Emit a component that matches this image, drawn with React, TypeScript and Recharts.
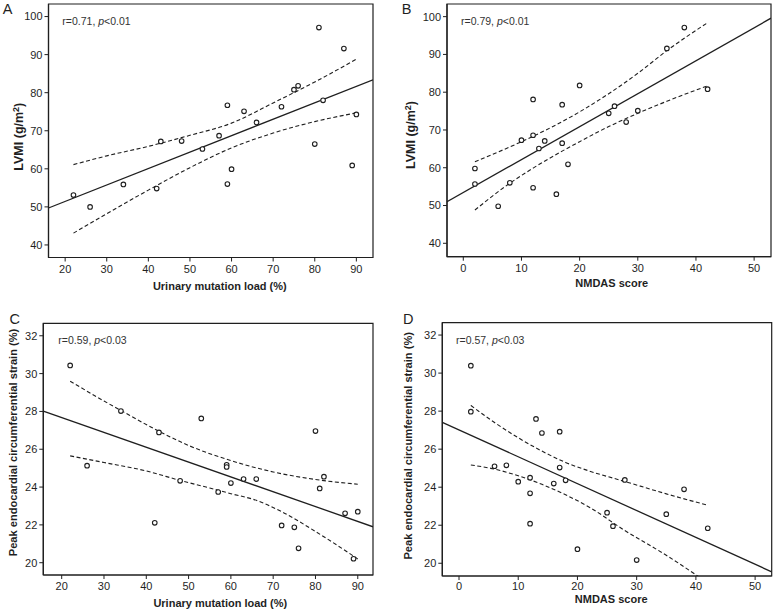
import React from "react";
import { ComposedChart, Scatter, Line, XAxis, YAxis, ReferenceArea } from "recharts";

const INK = "#1f1f1f";
const FONT = "'Liberation Sans', Arial, sans-serif";

// patients
const urinaryLoad = [22, 26, 34, 42, 43, 48, 53, 57, 59, 59, 60, 63, 66, 72, 75, 76, 80, 81, 82, 87, 89, 90];
const lvmiByLoad = [53.1, 50.0, 55.9, 54.8, 67.2, 67.3, 65.2, 68.7, 76.7, 56.0, 59.9, 75.1, 72.2, 76.3, 80.8, 81.8, 66.5, 97.1, 78.0, 91.6, 60.9, 74.3];
const strainByLoad = [30.43, 25.13, 28.02, 22.11, 26.89, 24.33, 27.63, 23.74, 25.18, 25.06, 24.21, 24.42, 24.42, 21.97, 21.87, 20.76, 26.96, 23.93, 24.55, 22.61, 20.21, 22.7];

const nmdasScore = [2, 2, 6, 8, 10, 12, 12, 12, 13, 14, 16, 17, 17, 18, 20, 25, 26, 28, 30, 35, 38, 42];
const lvmiByNmdas = [59.8, 55.7, 49.8, 56.0, 67.3, 78.1, 68.6, 54.7, 65.1, 67.1, 53.0, 76.7, 66.5, 60.9, 81.8, 74.4, 76.3, 72.1, 75.1, 91.6, 97.1, 80.8];
const strainByNmdas = [30.39, 27.97, 25.1, 25.15, 24.29, 24.5, 23.68, 22.08, 27.59, 26.85, 24.19, 26.92, 25.03, 24.36, 20.74, 22.66, 21.95, 24.38, 20.17, 22.58, 23.89, 21.84];

// fitted lines and 95% bands
const fitAX = [16, 94];
const fitAY = [49.7, 83.4];
const bandAUpX = [22, 30, 40, 50, 60, 70, 80, 90];
const bandAUpY = [61.1, 63.4, 65.9, 68.8, 72.0, 77.3, 82.8, 88.8];
const bandALoX = [22, 30, 40, 50, 60, 70, 80, 90];
const bandALoY = [43.1, 48.2, 54.4, 60.3, 65.5, 69.4, 72.4, 74.7];

const fitBX = [-2.8, 52.9];
const fitBY = [51.0, 99.6];
const bandBUpX = [2, 10, 15, 20, 25, 30, 35, 42];
const bandBUpY = [61.6, 66.9, 70.6, 74.8, 79.6, 85.0, 91.0, 98.4];
const bandBLoX = [2, 8, 12, 17, 20, 25, 30, 35, 42];
const bandBLoY = [48.8, 55.9, 59.9, 64.4, 66.9, 70.9, 74.4, 77.6, 81.7];

const fitCX = [15.65, 93.6];
const fitCY = [28.02, 21.9];
const bandCUpX = [22, 30, 34, 43, 50, 60, 70, 80, 90];
const bandCUpY = [29.6, 28.55, 28.05, 26.95, 26.2, 25.4, 24.8, 24.4, 24.15];
const bandCLoX = [22, 30, 40, 48, 55, 60, 66, 72, 80, 90];
const bandCLoY = [25.65, 25.3, 24.85, 24.35, 23.95, 23.65, 23.3, 22.7, 21.65, 20.2];

const fitDX = [-2.82, 52.8];
const fitDY = [27.41, 19.55];
const bandDUpX = [2, 6, 10, 14, 18, 22, 28, 35, 42];
const bandDUpY = [28.3, 27.4, 26.6, 25.9, 25.3, 24.85, 24.3, 23.65, 23.05];
const bandDLoX = [2, 6, 10, 14, 18, 22, 28, 35, 42];
const bandDLoY = [25.17, 24.95, 24.6, 24.15, 23.6, 22.95, 21.72, 20.42, 18.97];

const loadTicks = [20, 30, 40, 50, 60, 70, 80, 90];
const nmdasTicks = [0, 10, 20, 30, 40, 50];
const lvmiTicks = [40, 50, 60, 70, 80, 90, 100];
const strainTicks = [20, 22, 24, 26, 28, 30, 32];

const zip = (xs: number[], ys: number[]) => xs.map((x, i) => ({ x, y: ys[i] }));

const Ring = (props: any) => (
  <circle cx={props.cx} cy={props.cy} r={2.3} fill="#fff" stroke={INK} strokeWidth={1.1} />
);

type PanelSpec = {
  left: number;
  top: number;
  width: number;
  height: number;
  margin: { top: number; right: number; bottom: number; left: number };
  yAxisWidth: number;
  xAxisHeight: number;
  xTickMargin: number;
  xDomain: [number, number];
  yDomain: [number, number];
  xTicks: number[];
  yTicks: number[];
  xs: number[];
  ys: number[];
  fit: { x: number; y: number }[];
  upper: { x: number; y: number }[];
  lower: { x: number; y: number }[];
  xLabel: string;
  xLabelPos: [number, number];
  yLabel: React.ReactNode;
  yLabelPos: [number, number];
  yLabelSize: number;
};

function Panel(p: PanelSpec) {
  const pts = zip(p.xs, p.ys);
  const xLabel = () => (
    <text x={p.xLabelPos[0]} y={p.xLabelPos[1]} textAnchor="middle" fontFamily={FONT} fontWeight="bold" fontSize={11} fill={INK}>
      {p.xLabel}
    </text>
  );
  const yLabel = () => (
    <text
      transform={`translate(${p.yLabelPos[0]},${p.yLabelPos[1]}) rotate(-90)`}
      textAnchor="middle"
      fontFamily={FONT}
      fontWeight="bold"
      fontSize={p.yLabelSize}
      fill={INK}
    >
      {p.yLabel}
    </text>
  );
  return (
    <div style={{ position: "absolute", left: p.left, top: p.top }}>
      <ComposedChart width={p.width} height={p.height} margin={p.margin}>
        <XAxis
          type="number"
          dataKey="x"
          domain={p.xDomain}
          ticks={p.xTicks}
          interval={0}
          allowDataOverflow
          height={p.xAxisHeight}
          tickSize={4}
          tickMargin={p.xTickMargin}
          axisLine={{ stroke: INK, strokeWidth: 1.2 }}
          tickLine={{ stroke: INK, strokeWidth: 1 }}
          tick={{ fill: INK, fontSize: 11, fontFamily: FONT }}
          label={xLabel}
        />
        <YAxis
          type="number"
          dataKey="y"
          domain={p.yDomain}
          ticks={p.yTicks}
          interval={0}
          allowDataOverflow
          width={p.yAxisWidth}
          tickSize={4}
          tickMargin={2}
          axisLine={{ stroke: INK, strokeWidth: 1.2 }}
          tickLine={{ stroke: INK, strokeWidth: 1 }}
          tick={{ fill: INK, fontSize: 11, fontFamily: FONT }}
          label={yLabel}
        />
        <ReferenceArea
          x1={p.xDomain[0]}
          x2={p.xDomain[1]}
          y1={p.yDomain[0]}
          y2={p.yDomain[1]}
          fill="none"
          stroke={INK}
          strokeWidth={1.2}
          fillOpacity={0}
        />
        <Line data={p.upper} dataKey="y" type="monotone" stroke={INK} strokeWidth={1.1} strokeDasharray="4 2.5" dot={false} isAnimationActive={false} />
        <Line data={p.lower} dataKey="y" type="monotone" stroke={INK} strokeWidth={1.1} strokeDasharray="4 2.5" dot={false} isAnimationActive={false} />
        <Line data={p.fit} dataKey="y" type="linear" stroke={INK} strokeWidth={1.3} dot={false} isAnimationActive={false} />
        <Scatter data={pts} dataKey="y" shape={Ring} isAnimationActive={false} />
      </ComposedChart>
    </div>
  );
}

const lvmiTitle = (
  <>
    LVMI (g/m<tspan dy={-4} fontSize={9}>2</tspan>
    <tspan dy={4}>)</tspan>
  </>
);
const strainTitle = "Peak endocardial circumferential strain (%)";

const panels: PanelSpec[] = [
  {
    left: 0, top: 0, width: 375, height: 300,
    margin: { top: 4, right: 2, bottom: 0, left: 0 },
    yAxisWidth: 48.5, xAxisHeight: 42.5, xTickMargin: 3.5,
    xDomain: [16, 94], yDomain: [36.7, 103.3],
    xTicks: loadTicks, yTicks: lvmiTicks,
    xs: urinaryLoad, ys: lvmiByLoad,
    fit: zip(fitAX, fitAY), upper: zip(bandAUpX, bandAUpY), lower: zip(bandALoX, bandALoY),
    xLabel: "Urinary mutation load (%)", xLabelPos: [219.8, 290],
    yLabel: lvmiTitle, yLabelPos: [22.7, 136.7], yLabelSize: 12.5,
  },
  {
    left: 385, top: 0, width: 388, height: 300,
    margin: { top: 4, right: 2, bottom: 0, left: 0 },
    yAxisWidth: 62, xAxisHeight: 43.3, xTickMargin: 3.5,
    xDomain: [-2.8, 52.9], yDomain: [36.45, 103.35],
    xTicks: nmdasTicks, yTicks: lvmiTicks,
    xs: nmdasScore, ys: lvmiByNmdas,
    fit: zip(fitBX, fitBY), upper: zip(bandBUpX, bandBUpY), lower: zip(bandBLoX, bandBLoY),
    xLabel: "NMDAS score", xLabelPos: [226.7, 287.3],
    yLabel: lvmiTitle, yLabelPos: [30, 135], yLabelSize: 12.5,
  },
  {
    left: 0, top: 300, width: 375, height: 313,
    margin: { top: 23.3, right: 2, bottom: 0, left: 0 },
    yAxisWidth: 43.3, xAxisHeight: 38, xTickMargin: 3.5,
    xDomain: [15.65, 93.6], yDomain: [19.35, 32.66],
    xTicks: loadTicks, yTicks: strainTicks,
    xs: urinaryLoad, ys: strainByLoad,
    fit: zip(fitCX, fitCY), upper: zip(bandCUpX, bandCUpY), lower: zip(bandCLoX, bandCLoY),
    xLabel: "Urinary mutation load (%)", xLabelPos: [220.3, 307.3],
    yLabel: strainTitle, yLabelPos: [17.3, 142.5], yLabelSize: 11.1,
  },
  {
    left: 385, top: 300, width: 388, height: 313,
    margin: { top: 22.7, right: 1.3, bottom: 0, left: 0 },
    yAxisWidth: 57.3, xAxisHeight: 37, xTickMargin: 2.5,
    xDomain: [-2.82, 52.8], yDomain: [19.33, 32.65],
    xTicks: nmdasTicks, yTicks: strainTicks,
    xs: nmdasScore, ys: strainByNmdas,
    fit: zip(fitDX, fitDY), upper: zip(bandDUpX, bandDUpY), lower: zip(bandDLoX, bandDLoY),
    xLabel: "NMDAS score", xLabelPos: [226.2, 302.8],
    yLabel: strainTitle, yLabelPos: [26.7, 145.8], yLabelSize: 11.1,
  },
];

const letters = [
  { t: "A", x: 2.7, y: 14 },
  { t: "B", x: 401.7, y: 14 },
  { t: "C", x: 9.5, y: 324 },
  { t: "D", x: 403, y: 324 },
];

const stats = [
  { r: "0.71", p: "0.01", x: 62.3, y: 25 },
  { r: "0.79", p: "0.01", x: 461, y: 24.5 },
  { r: "0.59", p: "0.03", x: 58.3, y: 344.3 },
  { r: "0.57", p: "0.03", x: 456, y: 343.5 },
];

export default function App() {
  return (
    <div style={{ position: "absolute", left: 0, top: 0, width: 775, height: 613, background: "#fff" }}>
      {panels.map((p, i) => (
        <Panel key={i} {...p} />
      ))}
      <svg width={775} height={613} style={{ position: "absolute", left: 0, top: 0, pointerEvents: "none" }}>
        {letters.map((l) => (
          <text key={l.t} x={l.x} y={l.y} fontFamily={FONT} fontSize={14.5} fill={INK}>
            {l.t}
          </text>
        ))}
        {stats.map((s, i) => (
          <text key={i} x={s.x} y={s.y} fontFamily={FONT} fontSize={10.5} fill="#333">
            r={s.r}, <tspan fontStyle="italic">p</tspan>&lt;{s.p}
          </text>
        ))}
      </svg>
    </div>
  );
}
